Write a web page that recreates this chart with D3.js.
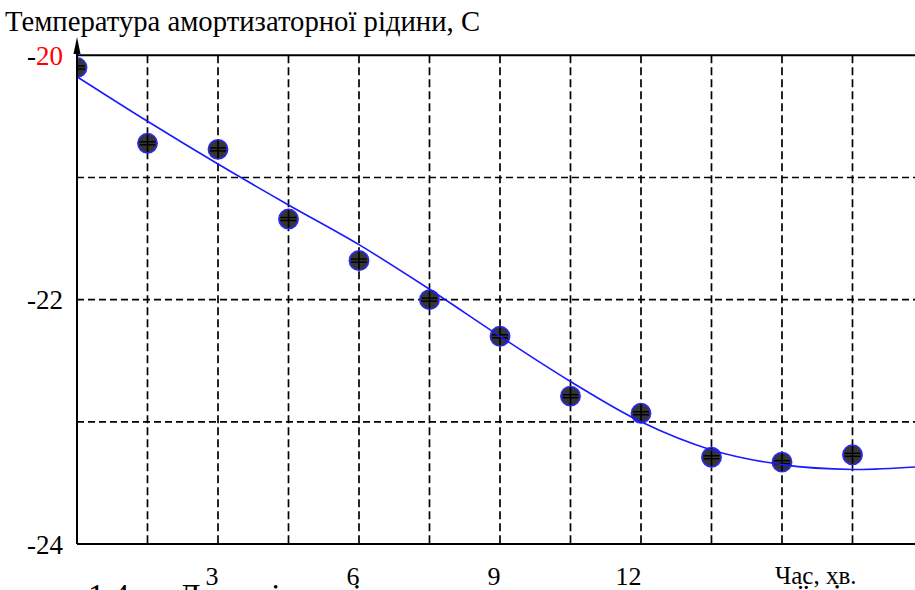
<!DOCTYPE html>
<html><head><meta charset="utf-8">
<script src="https://cdn.jsdelivr.net/npm/d3@7/dist/d3.min.js"></script>
<style>
html,body{margin:0;padding:0;background:#fff;}
svg{display:block;}
text{font-family:'Liberation Serif','Times New Roman','DejaVu Serif',serif;}
</style></head>
<body>
<svg id="chart" width="915" height="590"></svg>
<script>
// ---- data ----
const timeMin = [0, 1.5, 3, 4.5, 6, 7.5, 9, 10.5, 12, 13.5, 15, 16.5];
const tempMeasured = [-20.10, -20.72, -20.77, -21.34, -21.68, -22.00, -22.30, -22.79, -22.93, -23.29, -23.33, -23.27];
const fitTime = [0, 1.5, 3, 4.5, 6, 7.5, 9, 10.5, 12, 13.5, 15, 16.5, 17.83];
const fitTemp = [-20.175, -20.54, -20.89, -21.225, -21.55, -21.915, -22.30, -22.67, -23.00, -23.23, -23.35, -23.39, -23.37];
const gridTimes = [1.5, 3, 4.5, 6, 7.5, 9, 10.5, 12, 13.5, 15, 16.5];
const gridTemps = [-21, -22, -23];
const xTickLabels = [3, 6, 9, 12];
const yTickLabels = [-20, -22, -24];
const titleText = "Температура амортизаторної рідини, С";
const xAxisTitle = "Час, хв.";
const captionNum = "1.4 –";
const captionText = "Динаміка зміни температури амортизаторної рідини";

// ---- scales ----
const x = d3.scaleLinear().domain([0, 17.83]).range([77, 915]);
const y = d3.scaleLinear().domain([-24, -20]).range([544, 55.3]);

const svg = d3.select("#chart")
  .attr("font-family", "'Liberation Serif','Times New Roman','DejaVu Serif',serif");

svg.append("defs").append("clipPath").attr("id","plotclip")
  .append("rect").attr("x", 77).attr("y", 30).attr("width", 915-77).attr("height", 520);

// cut-off caption (only its top edge is visible, as in the source)
const cap = svg.append("text").attr("y", 607).attr("font-size", 33);
cap.append("tspan").attr("x", 88).text(captionNum);
cap.append("tspan").attr("x", 178).text(captionText);

// grid
const grid = svg.append("g");
grid.selectAll("line.v").data(gridTimes).enter().append("line")
  .attr("x1", d => x(d)).attr("x2", d => x(d))
  .attr("y1", y(-20)).attr("y2", y(-24))
  .attr("stroke", "#000").attr("stroke-width", 1.7).attr("stroke-dasharray", "8,4");
grid.selectAll("line.h").data(gridTemps).enter().append("line")
  .attr("x1", x(0)).attr("x2", 915)
  .attr("y1", d => y(d)).attr("y2", d => y(d))
  .attr("stroke", "#000").attr("stroke-width", 1.7).attr("stroke-dasharray", "7,4");
[-20, -24].forEach(v => {
  grid.append("line").attr("x1", x(0)).attr("x2", 915)
    .attr("y1", y(v)).attr("y2", y(v)).attr("stroke", "#000").attr("stroke-width", 2);
});

// markers
const plot = svg.append("g").attr("clip-path", "url(#plotclip)");
const pts = timeMin.map((t, i) => ({t, v: tempMeasured[i]}));
const mk = plot.selectAll("g.mk").data(pts).enter().append("g")
  .attr("transform", d => `translate(${x(d.t)},${y(d.v)})`);
mk.append("circle").attr("r", 9.7).attr("fill", "#353535").attr("stroke", "#2a2aff").attr("stroke-width", 1.5);
mk.append("line").attr("x1", 0).attr("x2", 0).attr("y1", -9).attr("y2", 9).attr("stroke", "#000").attr("stroke-width", 1.6);
mk.append("line").attr("x1", -8).attr("x2", 8).attr("y1", -1.5).attr("y2", -1.5).attr("stroke", "#000").attr("stroke-width", 1.4);
mk.append("line").attr("x1", -8).attr("x2", 8).attr("y1", 1.5).attr("y2", 1.5).attr("stroke", "#000").attr("stroke-width", 1.4);

// fit curve
const fit = fitTime.map((t, i) => ({t, v: fitTemp[i]}));
plot.append("path").datum(fit)
  .attr("d", d3.line().x(d => x(d.t)).y(d => y(d.v)).curve(d3.curveCatmullRom.alpha(0.5)))
  .attr("fill", "none").attr("stroke", "#1a1aff").attr("stroke-width", 1.6);

// y axis with arrow
svg.append("line").attr("x1", x(0)).attr("x2", x(0)).attr("y1", y(-24)).attr("y2", 45)
  .attr("stroke", "#000").attr("stroke-width", 2);
svg.append("path").attr("d", `M${x(0)},37 L${x(0)-3.5},54 L${x(0)+3.5},54 Z`).attr("fill", "#000");

// y labels
const yl = svg.selectAll("text.yl").data(yTickLabels).enter().append("text")
  .attr("x", 63).attr("y", d => y(d) + 9.5)
  .attr("text-anchor", "end").attr("font-size", 27);
yl.append("tspan").attr("fill", "#000").text("-");
yl.append("tspan").attr("fill", (d, i) => i === 0 ? "#ff0000" : "#000").text(d => Math.abs(d));

// x labels
svg.selectAll("text.xl").data(xTickLabels).enter().append("text")
  .attr("x", d => x(d) + 0.5).attr("y", 585)
  .attr("text-anchor", "end").attr("font-size", 26).text(d => d);
svg.append("text").attr("x", 775).attr("y", 584).attr("font-size", 25).text(xAxisTitle);

// title
svg.append("text").attr("x", 5).attr("y", 31).attr("font-size", 28.7).text(titleText);
</script>
</body></html>
